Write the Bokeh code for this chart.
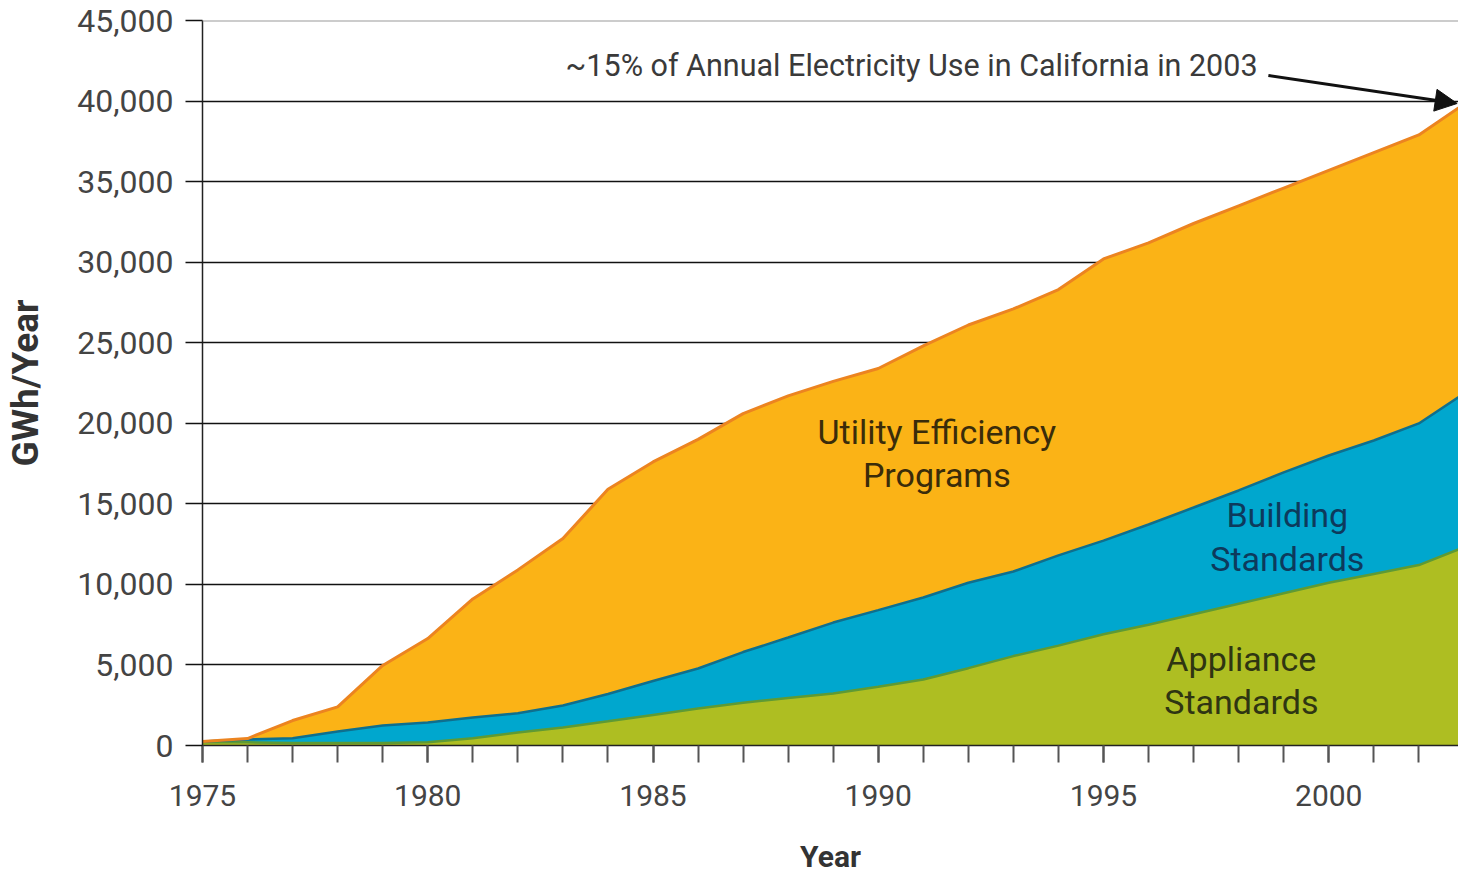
from bokeh.plotting import figure
from bokeh.models import (ColumnDataSource, Range1d, SingleIntervalTicker, NumeralTickFormatter,
                          Label, Arrow, NormalHead, Span)
from bokeh.transform import stack
from bokeh.embed import file_html
from bokeh.resources import INLINE

years = list(range(1975, 2004))
appliance = [200, 200, 150, 150, 150, 200, 450, 800, 1120, 1500, 1900, 2300, 2650, 2950, 3230,
             3650, 4100, 4800, 5550, 6200, 6900, 7500, 8150, 8800, 9450, 10100, 10650, 11200, 12300]
building = [50, 170, 300, 720, 1090, 1230, 1290, 1200, 1360, 1700, 2100, 2480, 3150, 3750, 4400,
            4750, 5090, 5300, 5250, 5600, 5820, 6220, 6620, 7030, 7500, 7900, 8280, 8790, 9550]
utility = [0, 60, 1100, 1530, 3730, 5210, 7360, 8900, 10370, 12700, 13600, 14220, 14800, 15000, 14970,
           15000, 15610, 16000, 16300, 16500, 17480, 17480, 17630, 17670, 17650, 17700, 17870, 17910, 17950]
series = ["appliance", "building", "utility"]
fill_colors = ["#AEBE22", "#00A7CE", "#FBB316"]
edge_colors = ["#5E9A34", "#0E6F8E", "#EC8420"]
edge_widths = [2.5, 2.5, 3]

src = ColumnDataSource(dict(year=years, appliance=appliance, building=building, utility=utility))

FONT = "Roboto"

p = figure(width=1458, height=876, output_backend="svg", toolbar_location=None,
           x_range=Range1d(1975, 2002.88), y_range=Range1d(0, 45000),
           min_border_left=202, min_border_right=0, min_border_top=20, min_border_bottom=131)
p.outline_line_color = None
p.background_fill_color = "white"

p.varea_stack(stackers=series, x="year", color=fill_colors, source=src)
for i in range(len(series)):
    p.line(x="year", y=stack(*series[:i + 1]), line_color=edge_colors[i],
           line_width=edge_widths[i], source=src)

# axes
xa = p.xaxis[0]
xa.ticker = SingleIntervalTicker(interval=5, num_minor_ticks=5)
xa.axis_line_color = "#222222"
xa.axis_line_width = 1.5
xa.major_tick_in = 0
xa.major_tick_out = 17
xa.minor_tick_in = 0
xa.minor_tick_out = 17
xa.major_tick_line_color = "#555555"
xa.minor_tick_line_color = "#555555"
xa.major_tick_line_width = 2
xa.minor_tick_line_width = 2
xa.major_label_text_font = FONT
xa.major_label_text_font_size = "30px"
xa.major_label_text_color = "#444444"
xa.major_label_standoff = 22
xa.axis_label = "Year"
xa.axis_label_text_font = FONT
xa.axis_label_text_font_style = "bold"
xa.axis_label_text_font_size = "30px"
xa.axis_label_text_color = "#333333"
xa.axis_label_standoff = 30

ya = p.yaxis[0]
ya.ticker = SingleIntervalTicker(interval=5000, num_minor_ticks=0)
ya.formatter = NumeralTickFormatter(format="0,0")
ya.axis_line_color = "#222222"
ya.axis_line_width = 1.5
ya.major_tick_in = 0
ya.major_tick_out = 17
ya.major_tick_line_color = "#111111"
ya.major_tick_line_width = 1.5
ya.minor_tick_line_color = None
ya.major_label_text_font = FONT
ya.major_label_text_font_size = "32px"
ya.major_label_text_color = "#444444"
ya.major_label_standoff = 12
ya.axis_label = "GWh/Year"
ya.axis_label_text_font = FONT
ya.axis_label_text_font_style = "bold"
ya.axis_label_text_font_size = "37px"
ya.axis_label_text_color = "#333333"
ya.axis_label_standoff = 27

p.xgrid.grid_line_color = None
p.ygrid.ticker = SingleIntervalTicker(interval=5000)
p.ygrid.grid_line_color = "#111111"
p.ygrid.grid_line_width = 1.5

p.add_layout(Span(location=45000, dimension="width", line_color="#9a9a9a", line_width=2))

# area labels
def lab(x, y, t, color):
    p.add_layout(Label(x=x, y=y, text=t, text_font=FONT, text_font_size="34px",
                       text_color=color, text_align="center", text_baseline="middle"))

lab(1991.3, 19430, "Utility Efficiency", "#3A2C0A")
lab(1991.3, 16760, "Programs", "#3A2C0A")
lab(1999.08, 14280, "Building", "#0D3A5C")
lab(1999.08, 11600, "Standards", "#0D3A5C")
lab(1998.06, 5400, "Appliance", "#2F3512")
lab(1998.06, 2670, "Standards", "#2F3512")

p.add_layout(Label(x=1983.06, y=42200, text="~15% of Annual Electricity Use in California in 2003",
                   text_font=FONT, text_font_size="30.5px", text_color="#3a3a3a",
                   text_align="left", text_baseline="middle"))
p.add_layout(Arrow(x_start=1998.66, y_start=41590, x_end=2002.85, y_end=39850,
                   line_color="#111111", line_width=3,
                   end=NormalHead(size=22, fill_color="#111111", line_color="#111111")))

open("out.html", "w").write(file_html(p, INLINE))
